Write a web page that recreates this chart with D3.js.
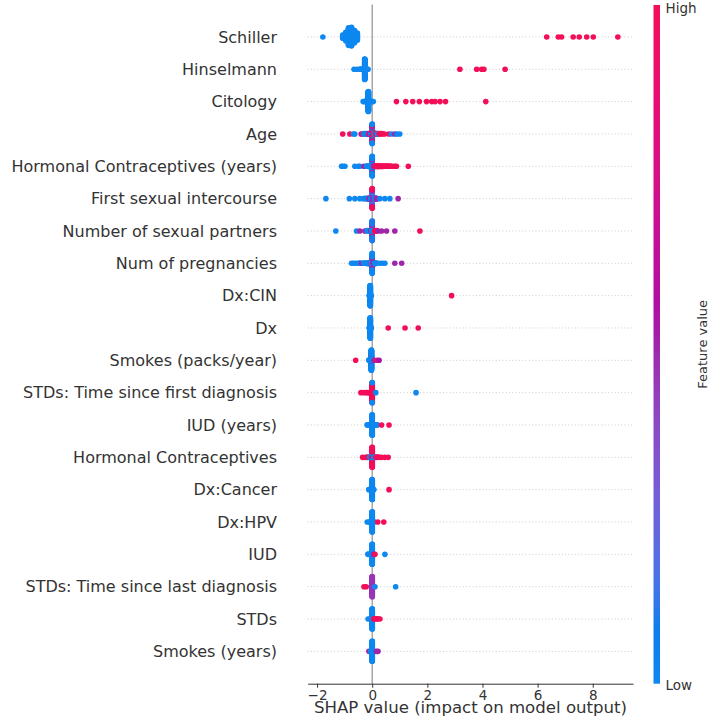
<!DOCTYPE html>
<html><head><meta charset="utf-8">
<script src="https://cdn.jsdelivr.net/npm/d3@7"></script>
<style>html,body{margin:0;padding:0;background:#fff;} svg{display:block;font-family:"DejaVu Sans",sans-serif;}</style>
</head><body><svg id="chart" width="709" height="722"></svg>
<script>
// ---------- DATA (each entry: [SHAP value, feature value 0=low..1=high, count]) ----------
const features = ["Schiller","Hinselmann","Citology","Age","Hormonal Contraceptives (years)",
  "First sexual intercourse","Number of sexual partners","Num of pregnancies","Dx:CIN","Dx",
  "Smokes (packs/year)","STDs: Time since first diagnosis","IUD (years)","Hormonal Contraceptives",
  "Dx:Cancer","Dx:HPV","IUD","STDs: Time since last diagnosis","STDs","Smokes (years)"];

const schiller = [[-1.79,0,1],[-1.07,0,6],[-0.96,0,14],[-0.86,0,28],[-0.75,0,30],[-0.64,0,20],[-0.54,0,12],
  [6.33,1,1],[6.75,1,1],[6.87,1,1],[7.29,1,1],[7.51,1,1],[7.78,1,1],[8.02,1,1],[8.91,1,1]];
const hinselmann = [[-0.66,0,1],[-0.55,0,1],[-0.44,0,2],[-0.33,0,5],[-0.27,0,95],[-0.21,0,5],[-0.15,0,1],
  [3.18,1,1],[3.79,1,1],[3.97,1,1],[4.05,1,1],[4.82,1,1]];
const citology = [[-0.33,0,1],[-0.26,0,2],[-0.2,0,4],[-0.14,0,92],[-0.08,0,6],[-0.03,0,2],[0.04,0,1],
  [0.88,1,1],[1.22,1,1],[1.47,1,1],[1.71,1,1],[1.97,1,1],[2.16,1,1],[2.28,1,1],[2.46,1,1],[2.66,1,1],[4.12,1,1]];
const age = [[-1.07,1,1],[-0.81,1,1],[-0.68,0,1],[-0.63,0,1],[-0.4,0.6,1],[-0.36,1,1],[-0.3,0,2],[-0.24,0,2],
  [-0.18,0.1,3],[-0.12,0.5,3],[-0.07,1,4],[-0.03,0,6],
  [0.0,0,14],[0.0,0.55,8],[0.0,1,8],[0.0,0.1,10],[0.0,0.5,8],[0.0,0.9,6],[0.0,0,6],
  [0.04,0.9,6],[0.08,0,4],[0.13,1,4],[0.19,0,3],[0.26,1,2],[0.35,1,2],[0.45,1,1],[0.6,1,1],
  [0.7,0,1],[0.82,0.5,1],[0.9,0,1],[1.0,0,1]];
const hcYears = [[-1.11,0,1],[-1.06,0,1],[-0.99,0,1],[-0.63,0,1],[-0.5,0,1],[-0.45,0,1],[-0.3,0.5,1],
  [-0.2,0,2],[-0.13,0,3],[-0.06,0,5],
  [0.0,0,40],[0.0,0.5,6],[0.0,0,16],
  [0.06,0.5,4],[0.12,1,3],[0.18,1,3],[0.24,1,3],[0.3,1,3],[0.37,1,3],[0.44,1,2],[0.51,1,2],[0.58,1,2],
  [0.66,1,2],[0.75,1,1],[0.82,1,1],[0.88,1,1],[1.31,1,1]];
const firstSex = [[-1.68,0,1],[-0.83,0,1],[-0.63,0,1],[-0.45,0,1],[-0.32,0,1],[-0.25,0,2],[-0.17,0,3],
  [-0.1,0.5,4],[-0.05,0,5],
  [0.0,0,20],[0.0,0.5,10],[0.0,0.15,14],[0.0,0.5,8],[0.0,1,6],
  [0.05,0.5,5],[0.1,0,4],[0.16,0.5,3],[0.28,0,1],[0.46,0,1],[0.64,0,1],[0.94,0.5,1]];
const partners = [[-1.32,0,1],[-0.57,0,1],[-0.45,0.5,1],[-0.27,0.5,1],[-0.18,0,2],[-0.11,0,3],[-0.05,0.5,4],
  [0.0,0,30],[0.0,0.5,10],[0.0,0.1,18],
  [0.05,0,4],[0.1,1,3],[0.16,1,2],[0.22,0.5,1],[0.34,0.5,1],[0.52,0.5,1],[0.82,0.5,1],[1.73,1,1]];
const pregnancies = [[-0.75,0,1],[-0.68,0,1],[-0.6,0,1],[-0.52,0,1],[-0.45,0,2],[-0.38,0.5,1],[-0.31,0,2],
  [-0.24,0,2],[-0.17,0,3],[-0.1,0,4],[-0.05,0.4,5],
  [0.0,0,25],[0.0,0.5,10],[0.0,0,20],
  [0.05,0.5,5],[0.1,0,3],[0.16,0,2],[0.28,0,1],[0.37,0,1],[0.46,0,1],[0.82,0.5,1],[1.07,0.5,1]];
const dxCin = [[-0.1,0,4],[-0.07,0,105],[-0.04,0,4],[2.88,1,1]];
const dx = [[-0.1,0,4],[-0.07,0,105],[-0.04,0,4],[0.58,1,1],[1.19,1,1],[1.67,1,1]];
const smokesPacks = [[-0.6,1,1],[-0.12,0,2],[-0.07,0,4],[-0.03,0,60],[-0.03,0.5,4],[-0.03,0,40],[0.02,0,4],
  [0.07,0.5,1],[0.18,1,1],[0.25,0.55,1]];
const stdsFirst = [[-0.41,1,1],[-0.3,1,1],[-0.2,1,2],[-0.1,1,3],[-0.03,1,4],[0.0,1,95],[0.0,0,4],[0.13,0,1],[1.59,0,1]];
const iudYears = [[-0.18,0,2],[-0.11,0,3],[-0.05,0,4],[0.0,0,95],[0.05,0,4],[0.11,0,3],[0.18,0,2],[0.34,1,1],[0.61,1,1]];
const hc = [[-0.35,1,1],[-0.25,1,1],[-0.16,1,2],[-0.08,0,3],[0.0,1,30],[0.0,0,16],[0.0,1,44],[0.07,0,3],
  [0.14,1,2],[0.22,1,2],[0.33,1,1],[0.45,1,1],[0.58,1,1]];
const dxCancer = [[-0.12,0,2],[-0.06,0,4],[0.0,0,100],[0.05,0,3],[0.61,1,1]];
const dxHpv = [[-0.18,0,1],[-0.08,0,3],[0.0,0,100],[0.06,0,2],[0.2,1,1],[0.42,1,1]];
const iud = [[-0.15,0,2],[-0.06,0,3],[0.0,0,100],[0.06,0.55,1],[0.1,1,1],[0.46,0,1]];
const stdsLast = [[-0.3,1,1],[-0.22,1,1],[-0.03,0.45,3],[0.0,0.45,100],[0.04,0.45,2],[0.1,0,1],[0.85,0,1]];
const stds = [[-0.15,0,1],[-0.06,0,2],[0.0,0,100],[0.06,1,2],[0.13,1,2],[0.2,1,2],[0.28,1,1]];
const smokesYears = [[-0.12,0.5,1],[-0.05,0,3],[0.0,0,100],[0.05,0,2],[0.15,0.5,1],[0.21,0.5,1]];

const rowData = [schiller,hinselmann,citology,age,hcYears,firstSex,partners,pregnancies,dxCin,dx,
  smokesPacks,stdsFirst,iudYears,hc,dxCancer,dxHpv,iud,stdsLast,stds,smokesYears];
const xTicks = [-2,0,2,4,6,8];
const xLabel = "SHAP value (impact on model output)";
const cbarLabel = "Feature value";
const cbarHigh = "High", cbarLow = "Low";

// ---------- CHART ----------
const svg = d3.select("#chart");
const x = d3.scaleLinear().domain([-2.34,9.46]).range([307.7,633]);
const y = d3.scaleLinear().domain([-1,20]).range([683.7,4.6]);
const R = 2.8, SPREAD = 0.32;

function shapColor(t){
  const L = t < 0.5 ? 54 + (40-54)*(t/0.5) : 40 + (54-40)*((t-0.5)/0.5);
  const C = 70 + 20*t;
  const h = 4.6588 + (0.35470565 + 2*Math.PI - 4.6588)*t;
  const c = d3.rgb(d3.lab(L, C*Math.cos(h), C*Math.sin(h)));
  const k = 0.1, g = 136;
  return d3.rgb(Math.min(255,Math.max(0,c.r))*(1-k)+g*k,
                Math.min(255,Math.max(0,c.g))*(1-k)+g*k,
                Math.min(255,Math.max(0,c.b))*(1-k)+g*k).formatHex();
}

function swarm(groups){
  const pts=[];
  groups.forEach(g=>{ for(let k=0;k<g[2];k++) pts.push({v:g[0], c:g[1]}); });
  const mn=d3.min(pts,p=>p.v), mx=d3.max(pts,p=>p.v);
  pts.forEach(p=>p.q=Math.round(100*(p.v-mn)/(mx-mn)));
  const order=d3.range(pts.length).sort((a,b)=>pts[a].q-pts[b].q || a-b);
  let layer=0,last=null;
  order.forEach(i=>{
    if(pts[i].q!==last) layer=0;
    pts[i].ys=Math.ceil(layer/2)*((layer%2)*2-1);
    layer++; last=pts[i].q;
  });
  const m=d3.max(pts,p=>p.ys)+1;
  pts.forEach(p=>p.ys*=SPREAD/m);
  return pts;
}

const n = features.length;
// dotted row lines
svg.append("g").selectAll("line").data(features).join("line")
  .attr("x1",x.range()[0]).attr("x2",x.range()[1])
  .attr("y1",(d,i)=>y(n-1-i)).attr("y2",(d,i)=>y(n-1-i))
  .attr("stroke","#cccccc").attr("stroke-width",1).attr("stroke-dasharray","1,2.3");

// zero line
svg.append("line").attr("x1",x(0)).attr("x2",x(0)).attr("y1",y(20)).attr("y2",y(-1))
  .attr("stroke","#999").attr("stroke-width",1.3);

// points
const gp = svg.append("g");
rowData.forEach((groups,i)=>{
  const pos = n-1-i;
  const pts = swarm(groups);
  gp.append("g").selectAll("circle").data(pts).join("circle")
    .attr("cx",p=>x(p.v)).attr("cy",p=>y(pos+p.ys)).attr("r",R)
    .attr("fill",p=>shapColor(p.c));
});

// feature labels
svg.append("g").selectAll("text").data(features).join("text")
  .attr("x",277).attr("y",(d,i)=>y(n-1-i)).attr("dy","0.36em")
  .attr("text-anchor","end").attr("font-size",16).attr("fill","#333").text(d=>d);

// x axis
const ax = svg.append("g").attr("transform",`translate(0,${y(-1)})`)
  .call(d3.axisBottom(x).tickValues(xTicks).tickSize(4).tickSizeOuter(0)
    .tickFormat(d=>d<0?"\u2212"+Math.abs(d):String(d)));
ax.select(".domain").attr("stroke","#333").attr("stroke-width",1);
ax.selectAll(".tick line").attr("stroke","#333");
ax.selectAll(".tick text").attr("font-size",13.5).attr("fill","#333")
  .attr("font-family","DejaVu Sans").attr("dy",null).attr("y",16.5);

svg.append("text").attr("x",470.5).attr("y",713).attr("text-anchor","middle")
  .attr("font-size",16.6).attr("fill","#333").text(xLabel);

// colorbar
const defs = svg.append("defs");
const grad = defs.append("linearGradient").attr("id","cb").attr("x1",0).attr("y1",1).attr("x2",0).attr("y2",0);
d3.range(0,1.0001,0.02).forEach(t=>grad.append("stop").attr("offset",t).attr("stop-color",shapColor(t)));
svg.append("rect").attr("x",653.5).attr("y",5).attr("width",6.5).attr("height",y(-1)-5).attr("fill","url(#cb)");
svg.append("text").attr("x",665.5).attr("y",12.5).attr("font-size",13.5).attr("fill","#333").text(cbarHigh);
svg.append("text").attr("x",665.5).attr("y",689.5).attr("font-size",13.5).attr("fill","#333").text(cbarLow);
svg.append("text").attr("transform",`translate(706.5,${(5+y(-1))/2}) rotate(-90)`)
  .attr("text-anchor","middle").attr("font-size",13).attr("fill","#333").text(cbarLabel);
</script></body></html>
